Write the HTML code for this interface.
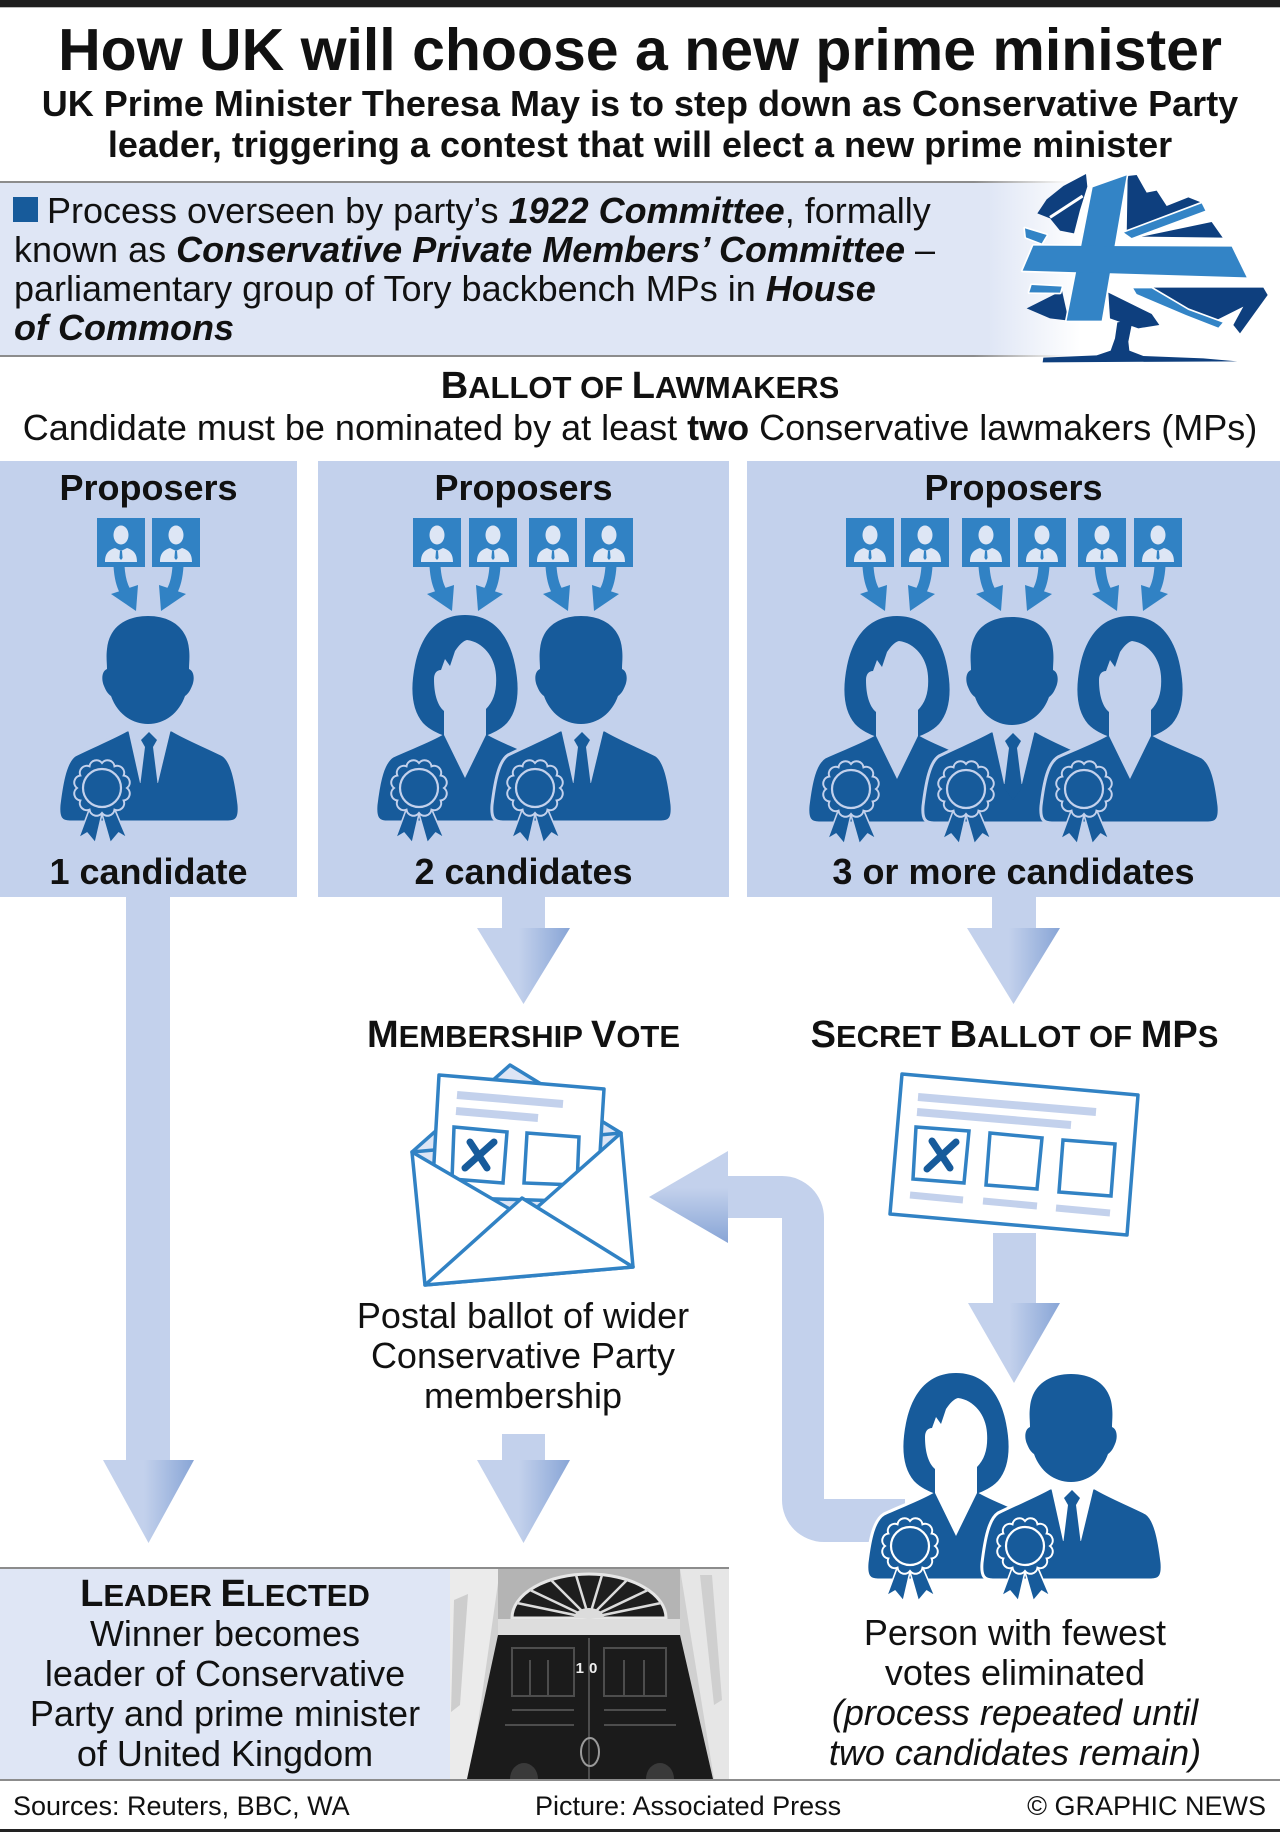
<!DOCTYPE html>
<html><head><meta charset="utf-8">
<style>
html,body{margin:0;padding:0;background:#fff;}
svg{display:block;}
text{font-family:"Liberation Sans",Arial,Helvetica,sans-serif;fill:#111;}
</style></head>
<body>
<svg width="1280" height="1832" viewBox="0 0 1280 1832" xmlns="http://www.w3.org/2000/svg" xmlns:xlink="http://www.w3.org/1999/xlink">
<defs>
<linearGradient id="gh" x1="0" y1="0" x2="1" y2="0"><stop offset="0" stop-color="#c3d1ec"/><stop offset="0.45" stop-color="#c3d1ec"/><stop offset="1" stop-color="#88a5d6"/></linearGradient>
<linearGradient id="gv" x1="0" y1="0" x2="0" y2="1"><stop offset="0" stop-color="#c3d1ec"/><stop offset="0.4" stop-color="#c3d1ec"/><stop offset="1" stop-color="#88a5d6"/></linearGradient>
<linearGradient id="boxfade" x1="0" y1="0" x2="1080" y2="0" gradientUnits="userSpaceOnUse"><stop offset="0.915" stop-color="#dfe6f5"/><stop offset="1" stop-color="#ffffff"/></linearGradient>
<linearGradient id="linefade" x1="0" y1="0" x2="1070" y2="0" gradientUnits="userSpaceOnUse"><stop offset="0.91" stop-color="#8c8c8c"/><stop offset="1" stop-color="#ffffff"/></linearGradient>

<g id="ros">
<polygon points="-13,22 0,26 -6.7,55 -15,45 -23.4,50" fill="#175b9b" stroke="currentColor" stroke-width="1.6" stroke-linejoin="round"/>
<polygon points="0,26 13,22 25,50 16.7,45 8.3,55" fill="#175b9b" stroke="currentColor" stroke-width="1.6" stroke-linejoin="round"/>
<path d="M25 0 A7 7 0 0 1 21.65 12.5 A7 7 0 0 1 12.5 21.65 A7 7 0 0 1 0 25 A7 7 0 0 1 -12.5 21.65 A7 7 0 0 1 -21.65 12.5 A7 7 0 0 1 -25 0 A7 7 0 0 1 -21.65 -12.5 A7 7 0 0 1 -12.5 -21.65 A7 7 0 0 1 0 -25 A7 7 0 0 1 12.5 -21.65 A7 7 0 0 1 21.65 -12.5 A7 7 0 0 1 25 0 Z" fill="#175b9b" stroke="currentColor" stroke-width="2"/>
<circle r="19" fill="none" stroke="currentColor" stroke-width="2.2"/>
</g>

<g id="man">
<path d="M69 115 C55 123 35 131 17 140 C8 146 4 165 1 190 C0 203 3 207 12 207 L170 207 C179 207 182 203 181 190 C178 165 174 146 165 140 C147 131 127 123 114 115 Z" fill="#175b9b" stroke="currentColor" stroke-width="3"/>
<polygon points="70,114 113,114 100,168 82,168" fill="currentColor"/>
<polygon points="91,117 99,125 95,132 87,132 83,125" fill="#175b9b"/>
<polygon points="87,132 95,132 100,172 91,184 82,172" fill="#175b9b"/>
<path d="M90 1 C112 1 129 12 131 34 C132 42 131 48 131 54 C136 56 137 64 134 71 C132 76 130 79 127 81 C121 98 107 109 90 109 C73 109 59 98 53 81 C50 79 48 76 46 71 C43 64 44 56 49 54 C49 48 48 42 49 34 C51 12 68 1 90 1 Z" fill="#175b9b"/>
<use xlink:href="#ros" href="#ros" x="44" y="173"/>
</g>

<g id="woman">
<path d="M68 118 C55 126 35 133 18 141 C8 147 4 165 1 190 C0 203 3 207 12 207 L168 207 C177 207 180 203 179 190 C176 165 172 147 162 141 C145 133 125 126 112 118 Z" fill="#175b9b" stroke="currentColor" stroke-width="3"/>
<path d="M90 0 C118 0 134 20 140 50 C145 75 143 95 132 108 C125 115 118 118 110 121 L70 121 C62 118 55 115 48 108 C37 95 35 75 40 50 C46 20 62 0 90 0 Z" fill="#175b9b"/>
<path d="M92 25 C108 27 120 42 121 60 C122 75 119 86 111 94 L111 120 L90 163 L69 120 L69 96 C62 90 59 78 59 64 C59 58 62 55 66 55 L70 44 L75 51 L80 36 C84 30 88 26 92 25 Z" fill="currentColor"/>
<use xlink:href="#ros" href="#ros" x="44" y="173"/>
</g>

<g id="pi">
<rect width="48" height="49" fill="#3182c4"/>
<ellipse cx="24" cy="17" rx="7.5" ry="9.5" fill="#dde6f5"/>
<path d="M8 44 C8 35 12 32 18 30 L24 33 L30 30 C36 32 40 35 40 44 Z" fill="#dde6f5"/>
<path d="M23 33 L25 33 L25.6 40 L24 42 L22.4 40 Z" fill="#3182c4"/>
</g>
</defs>

<!-- top bar -->
<rect x="0" y="0" width="1280" height="7" fill="#1e1e1e"/>
<rect x="0" y="7" width="1280" height="1" fill="#bbbbbb"/>

<!-- title -->
<text x="640" y="70" font-size="59" font-weight="bold" text-anchor="middle">How UK will choose a new prime minister</text>
<text x="640" y="116" font-size="36" font-weight="bold" text-anchor="middle">UK Prime Minister Theresa May is to step down as Conservative Party</text>
<text x="640" y="157" font-size="36" font-weight="bold" text-anchor="middle">leader, triggering a contest that will elect a new prime minister</text>

<!-- info box -->
<rect x="0" y="183" width="1080" height="172" fill="url(#boxfade)"/>
<rect x="0" y="181" width="1070" height="2" fill="url(#linefade)"/>
<rect x="0" y="355" width="1070" height="2" fill="url(#linefade)"/>
<rect x="13" y="197" width="25" height="25" fill="#175b9b"/>
<text x="47" y="223" font-size="36">Process overseen by party’s <tspan font-weight="bold" font-style="italic">1922 Committee</tspan>, formally</text>
<text x="14" y="262" font-size="36">known as <tspan font-weight="bold" font-style="italic">Conservative Private Members’ Committee</tspan> –</text>
<text x="14" y="301" font-size="36">parliamentary group of Tory backbench MPs in <tspan font-weight="bold" font-style="italic">House</tspan></text>
<text x="14" y="340" font-size="36" font-weight="bold" font-style="italic">of Commons</text>

<!-- logo -->
<g transform="translate(1000,160) scale(0.33333)">
<g fill="#0e3f7e">
<polygon points="112,160 140,118 190,78 258,42 262,80 240,150 222,220 180,212 150,175"/>
<polygon points="383,48 410,45 440,98 470,92 500,138 565,112 600,126 620,150 380,230"/>
<polygon points="425,230 635,186 668,233"/>
<polygon points="420,383 790,383 803,405 720,520 700,495 730,440 650,480 560,450 440,400"/>
<polygon points="80,445 186,392 206,482 150,475"/>
<polygon points="325,398 455,462 478,495 415,505 330,475"/>
<polygon points="352,487 398,480 385,545 388,572 430,588 610,595 712,604 128,607 130,593 290,586 332,572 345,535"/>
</g>
<line x1="150" y1="172" x2="248" y2="108" stroke="#fff" stroke-width="9"/>
<g fill="#ffffff" stroke="#ffffff" stroke-width="10" stroke-linejoin="round">
<polygon points="278,82 380,46 305,482 200,482"/>
<polygon points="100,257 695,260 740,352 68,332"/>
<polygon points="372,218 605,130 616,152 395,234"/>
<polygon points="75,205 140,225 125,250 78,232"/>
<polygon points="95,375 185,380 180,398 88,397"/>
<polygon points="400,385 455,385 565,450 668,488 655,503 558,465 410,402"/>
</g>
<g fill="#3384c6">
<polygon points="278,82 380,46 305,482 200,482"/>
<polygon points="100,257 695,260 740,352 68,332"/>
<polygon points="372,218 605,130 616,152 395,234"/>
<polygon points="75,205 140,225 125,250 78,232"/>
<polygon points="95,375 185,380 180,398 88,397"/>
<polygon points="400,385 455,385 565,450 668,488 655,503 558,465 410,402"/>
</g>
</g>

<!-- ballot of lawmakers -->
<text x="640" y="398" font-size="31" font-weight="bold" text-anchor="middle"><tspan font-size="38">B</tspan>ALLOT OF <tspan font-size="38">L</tspan>AWMAKERS</text>
<text x="640" y="440" font-size="36" text-anchor="middle">Candidate must be nominated by at least <tspan font-weight="bold">two</tspan> Conservative lawmakers (MPs)</text>

<!-- panels -->
<rect x="0" y="461" width="297" height="436" fill="#c3d1ec"/>
<rect x="318" y="461" width="411" height="436" fill="#c3d1ec"/>
<rect x="747" y="461" width="533" height="436" fill="#c3d1ec"/>

<text x="148.5" y="500" font-size="36" font-weight="bold" text-anchor="middle">Proposers</text>
<text x="523.5" y="500" font-size="36" font-weight="bold" text-anchor="middle">Proposers</text>
<text x="1013.5" y="500" font-size="36" font-weight="bold" text-anchor="middle">Proposers</text>

<!-- proposer icons -->
<use href="#pi" xlink:href="#pi" x="97" y="518"/>
<use href="#pi" xlink:href="#pi" x="152" y="518"/>
<use href="#pi" xlink:href="#pi" x="413" y="518"/>
<use href="#pi" xlink:href="#pi" x="469" y="518"/>
<use href="#pi" xlink:href="#pi" x="529" y="518"/>
<use href="#pi" xlink:href="#pi" x="585" y="518"/>
<use href="#pi" xlink:href="#pi" x="846" y="518"/>
<use href="#pi" xlink:href="#pi" x="901" y="518"/>
<use href="#pi" xlink:href="#pi" x="962" y="518"/>
<use href="#pi" xlink:href="#pi" x="1018" y="518"/>
<use href="#pi" xlink:href="#pi" x="1078" y="518"/>
<use href="#pi" xlink:href="#pi" x="1134" y="518"/>

<!-- proposer arrows -->
<g stroke="#3182c4" stroke-width="11" fill="none">
<path d="M119 566 Q120 582 125 591"/>
<path d="M435 566 Q436 582 441 591"/>
<path d="M551 566 Q552 582 557 591"/>
<path d="M868 566 Q869 582 874 591"/>
<path d="M984 566 Q985 582 990 591"/>
<path d="M1100 566 Q1101 582 1106 591"/>
<path d="M178 566 Q177 582 172 591"/>
<path d="M495 566 Q494 582 489 591"/>
<path d="M611 566 Q610 582 605 591"/>
<path d="M927 566 Q926 582 921 591"/>
<path d="M1044 566 Q1043 582 1038 591"/>
<path d="M1160 566 Q1159 582 1154 591"/>
</g>
<g fill="#3182c4">
<polygon points="111,594 138,585 136,611"/>
<polygon points="427,594 454,585 452,611"/>
<polygon points="543,594 570,585 568,611"/>
<polygon points="860,594 887,585 885,611"/>
<polygon points="976,594 1003,585 1001,611"/>
<polygon points="1092,594 1119,585 1117,611"/>
<polygon points="186,594 159,585 161,611"/>
<polygon points="503,594 476,585 478,611"/>
<polygon points="619,594 592,585 594,611"/>
<polygon points="935,594 908,585 910,611"/>
<polygon points="1052,594 1025,585 1027,611"/>
<polygon points="1168,594 1141,585 1143,611"/>
</g>

<!-- candidates -->
<g style="color:#c3d1ec">
<use href="#man" xlink:href="#man" x="58" y="615"/>
<use href="#woman" xlink:href="#woman" x="375" y="615"/>
<use href="#man" xlink:href="#man" x="491" y="615"/>
<use href="#woman" xlink:href="#woman" x="807" y="616"/>
<use href="#man" xlink:href="#man" x="922" y="616"/>
<use href="#woman" xlink:href="#woman" x="1040" y="616"/>
</g>

<text x="148.5" y="884" font-size="36" font-weight="bold" text-anchor="middle">1 candidate</text>
<text x="523.5" y="884" font-size="36" font-weight="bold" text-anchor="middle">2 candidates</text>
<text x="1013.5" y="884" font-size="36" font-weight="bold" text-anchor="middle">3 or more candidates</text>

<!-- big light arrows -->
<rect x="126" y="896" width="44" height="565" fill="#c3d1ec"/>
<polygon points="103,1460 194,1460 148.5,1543" fill="url(#gh)"/>

<rect x="502" y="896" width="43" height="33" fill="#c3d1ec"/>
<polygon points="477,928 570,928 523.5,1004" fill="url(#gh)"/>

<rect x="992" y="896" width="44" height="33" fill="#c3d1ec"/>
<polygon points="967,928 1060,928 1013.5,1004" fill="url(#gh)"/>

<rect x="502" y="1434" width="43" height="27" fill="#c3d1ec"/>
<polygon points="477,1460 570,1460 523.5,1543" fill="url(#gh)"/>

<rect x="993" y="1233" width="43" height="71" fill="#c3d1ec"/>
<polygon points="968,1303 1060,1303 1014,1383" fill="url(#gh)"/>

<!-- loop arrow -->
<path d="M727 1176 L782 1176 A42 42 0 0 1 824 1218 L824 1499 L905 1499 L905 1542 L824 1542 A42 42 0 0 1 782 1500 L782 1218 L727 1218 Z" fill="#c3d1ec"/>
<polygon points="728,1151 728,1243 649,1197" fill="url(#gv)"/>

<!-- section headings -->
<text x="523.5" y="1047" font-size="31" font-weight="bold" text-anchor="middle"><tspan font-size="38">M</tspan>EMBERSHIP <tspan font-size="38">V</tspan>OTE</text>
<text x="1014.5" y="1047" font-size="31" font-weight="bold" text-anchor="middle"><tspan font-size="38">S</tspan>ECRET <tspan font-size="38">B</tspan>ALLOT OF <tspan font-size="38">MP</tspan>S</text>

<!-- envelope -->
<polygon points="412,1152 621,1133 633,1267 425,1285" fill="#dde5f5"/>
<polygon points="412,1152 510,1065 621,1133" fill="#dde5f5" stroke="#3182c4" stroke-width="3.5" stroke-linejoin="round"/>
<polygon points="439,1075 604,1089 597,1202 432,1197" fill="#ffffff" stroke="#3182c4" stroke-width="3.5" stroke-linejoin="round"/>
<line x1="457" y1="1095" x2="563" y2="1104" stroke="#c3d1ec" stroke-width="8"/>
<line x1="456" y1="1111" x2="538" y2="1118" stroke="#c3d1ec" stroke-width="8"/>
<polygon points="454,1127 507,1132 503,1183 452,1179" fill="#ffffff" stroke="#3182c4" stroke-width="3.5"/>
<polygon points="527,1133 579,1137 577,1185 524,1183" fill="#ffffff" stroke="#3182c4" stroke-width="3.5"/>
<path d="M470 1142 L487 1168 M494 1142 L465 1168" stroke="#175b9b" stroke-width="7" stroke-linecap="round"/>
<polygon points="412,1152 525,1218 621,1133 633,1267 425,1285" fill="#ffffff" stroke="#3182c4" stroke-width="3.5" stroke-linejoin="round"/>
<polygon points="425,1285 522,1198 633,1267" fill="#ffffff" stroke="#3182c4" stroke-width="3.5" stroke-linejoin="round"/>

<!-- ballot card -->
<polygon points="902,1074 1138,1095 1127,1235 890,1214" fill="#ffffff" stroke="#3182c4" stroke-width="3.5" stroke-linejoin="round"/>
<line x1="918" y1="1097" x2="1096" y2="1112" stroke="#c3d1ec" stroke-width="8"/>
<line x1="917" y1="1112" x2="1071" y2="1125" stroke="#c3d1ec" stroke-width="8"/>
<polygon points="916,1127 969,1131 964,1183 913,1179" fill="#ffffff" stroke="#3182c4" stroke-width="3.5"/>
<polygon points="990,1133 1042,1138 1037,1189 986,1185" fill="#ffffff" stroke="#3182c4" stroke-width="3.5"/>
<polygon points="1063,1140 1115,1144 1111,1196 1059,1192" fill="#ffffff" stroke="#3182c4" stroke-width="3.5"/>
<line x1="910" y1="1195" x2="963" y2="1200" stroke="#c3d1ec" stroke-width="7"/>
<line x1="983" y1="1201" x2="1037" y2="1206" stroke="#c3d1ec" stroke-width="7"/>
<line x1="1056" y1="1208" x2="1110" y2="1213" stroke="#c3d1ec" stroke-width="7"/>
<path d="M932 1141 L950 1168 M956 1142 L927 1169" stroke="#175b9b" stroke-width="7" stroke-linecap="round"/>

<!-- postal text -->
<text x="523" y="1328" font-size="36" text-anchor="middle">Postal ballot of wider</text>
<text x="523" y="1368" font-size="36" text-anchor="middle">Conservative Party</text>
<text x="523" y="1408" font-size="36" text-anchor="middle">membership</text>

<!-- bottom right people -->
<g style="color:#ffffff">
<use href="#woman" xlink:href="#woman" x="866" y="1373"/>
<use href="#man" xlink:href="#man" x="981" y="1373"/>
</g>
<text x="1015" y="1645" font-size="36" text-anchor="middle">Person with fewest</text>
<text x="1015" y="1685" font-size="36" text-anchor="middle">votes eliminated</text>
<text x="1015" y="1725" font-size="36" font-style="italic" text-anchor="middle">(process repeated until</text>
<text x="1015" y="1765" font-size="36" font-style="italic" text-anchor="middle">two candidates remain)</text>

<!-- leader elected box -->
<rect x="0" y="1567" width="729" height="2" fill="#8c8c8c"/>
<rect x="0" y="1569" width="450" height="210" fill="#dfe6f5"/>
<text x="225" y="1606" font-size="31" font-weight="bold" text-anchor="middle"><tspan font-size="38">L</tspan>EADER <tspan font-size="38">E</tspan>LECTED</text>
<text x="225" y="1646" font-size="36" text-anchor="middle">Winner becomes</text>
<text x="225" y="1686" font-size="36" text-anchor="middle">leader of Conservative</text>
<text x="225" y="1726" font-size="36" text-anchor="middle">Party and prime minister</text>
<text x="225" y="1766" font-size="36" text-anchor="middle">of United Kingdom</text>

<!-- door photo -->
<g>
<rect x="450" y="1569" width="279" height="210" fill="#d0d0d0"/>
<polygon points="450,1569 500,1569 470,1779 450,1779" fill="#ebebeb"/>
<polygon points="454,1600 468,1594 460,1705 451,1712" fill="#cdcdcd"/>
<polygon points="680,1569 729,1569 729,1779 714,1779" fill="#e6e6e6"/>
<polygon points="700,1575 712,1575 722,1700 714,1705" fill="#cfcfcf"/>
<rect x="498" y="1569" width="182" height="51" fill="#b4b4b4"/>
<path d="M512 1618 A77 44 0 0 1 666 1618 Z" fill="#1e1e1e" stroke="#e6e6e6" stroke-width="3"/>
<g stroke="#dcdcdc" stroke-width="2.5">
<line x1="589" y1="1618" x2="661" y2="1603"/>
<line x1="589" y1="1618" x2="648" y2="1590"/>
<line x1="589" y1="1618" x2="627" y2="1580"/>
<line x1="589" y1="1618" x2="602" y2="1575"/>
<line x1="589" y1="1618" x2="576" y2="1575"/>
<line x1="589" y1="1618" x2="551" y2="1580"/>
<line x1="589" y1="1618" x2="530" y2="1590"/>
<line x1="589" y1="1618" x2="517" y2="1603"/>
</g>
<path d="M574 1618 A15 10 0 0 1 604 1618 Z" fill="#dcdcdc"/>
<rect x="498" y="1619" width="182" height="16" fill="#dddddd"/>
<polygon points="498,1635 680,1635 713,1779 467,1779" fill="#1b1b1b"/>
<g stroke="#4d4d4d" stroke-width="2" fill="none">
<rect x="512" y="1648" width="62" height="48"/>
<rect x="604" y="1648" width="62" height="48"/>
<line x1="589" y1="1638" x2="589" y2="1779"/>
<line x1="512" y1="1710" x2="574" y2="1710"/>
<line x1="604" y1="1710" x2="666" y2="1710"/>
<line x1="530" y1="1660" x2="530" y2="1696"/>
<line x1="548" y1="1660" x2="548" y2="1696"/>
<line x1="624" y1="1660" x2="624" y2="1696"/>
<line x1="644" y1="1660" x2="644" y2="1696"/>
<line x1="505" y1="1725" x2="574" y2="1725"/>
<line x1="604" y1="1725" x2="676" y2="1725"/>
</g>
<path d="M510 1779 A14 16 0 0 1 538 1779 Z" fill="#3a3a3a"/>
<path d="M646 1779 A14 16 0 0 1 674 1779 Z" fill="#3a3a3a"/>
<ellipse cx="590" cy="1752" rx="9" ry="14" fill="none" stroke="#9a9a9a" stroke-width="2"/>
<text x="589" y="1673" font-size="15" font-weight="bold" text-anchor="middle" letter-spacing="5" style="fill:#eeeeee">10</text>
</g>

<!-- footer -->
<rect x="0" y="1779" width="1280" height="2" fill="#8c8c8c"/>
<text x="13" y="1815" font-size="27">Sources: Reuters, BBC, WA</text>
<text x="535" y="1815" font-size="27">Picture: Associated Press</text>
<text x="1266" y="1815" font-size="27" text-anchor="end">© GRAPHIC NEWS</text>
<rect x="0" y="1829" width="1280" height="3" fill="#222222"/>
</svg>
</body></html>
